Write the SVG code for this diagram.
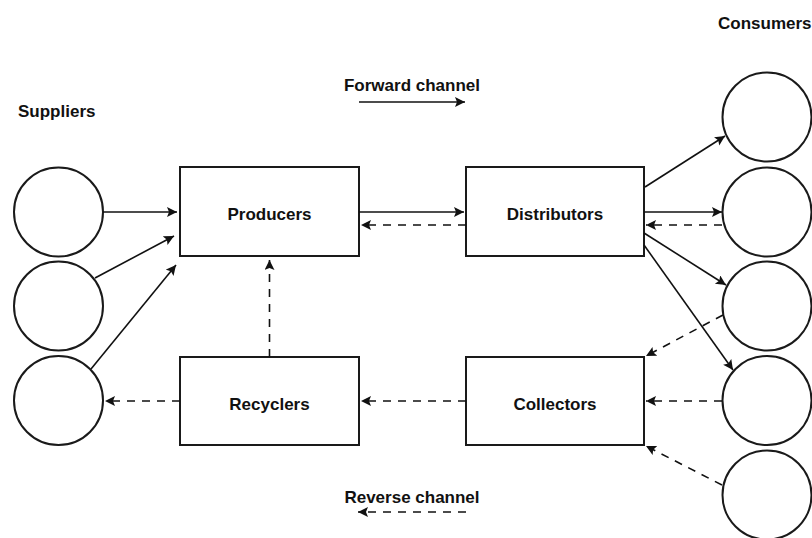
<svg xmlns="http://www.w3.org/2000/svg" width="812" height="538" viewBox="0 0 812 538">
<style>
.node{fill:#fff;stroke:#1a1a1a;stroke-width:2}
.lbl{font-family:"Liberation Sans",Arial,sans-serif;font-weight:bold;font-size:17px;fill:#111}
.mid{text-anchor:middle}
.c{fill:none;stroke:#111;stroke-width:1.6}
.d{stroke-dasharray:8 7}
</style>
<defs>
<marker id="ah" markerUnits="userSpaceOnUse" markerWidth="11" markerHeight="11" refX="10" refY="5" orient="auto">
<path d="M0,0 L10,5 L0,10 L2,5 z" fill="#111"/>
</marker>
</defs>
<rect width="812" height="538" fill="#fff"/>
<text class="lbl" x="18" y="117">Suppliers</text>
<text class="lbl" x="718" y="29">Consumers</text>
<text class="lbl mid" x="412" y="91">Forward channel</text>
<text class="lbl mid" x="412" y="503">Reverse channel</text>

<g id="supplier1"><circle class="node" cx="58.5" cy="212" r="44.5"/></g>
<g id="supplier2"><circle class="node" cx="58.5" cy="306" r="44.5"/></g>
<g id="supplier3"><circle class="node" cx="58.5" cy="400.5" r="44.5"/></g>

<g id="producers"><rect class="node" x="180" y="167" width="179" height="89"/><text class="lbl mid" x="269.5" y="220">Producers</text></g>
<g id="distributors"><rect class="node" x="466" y="167" width="178" height="89"/><text class="lbl mid" x="555" y="220">Distributors</text></g>
<g id="recyclers"><rect class="node" x="180" y="357" width="179" height="88"/><text class="lbl mid" x="269.5" y="410">Recyclers</text></g>
<g id="collectors"><rect class="node" x="466" y="357" width="178" height="88"/><text class="lbl mid" x="555" y="410">Collectors</text></g>

<g id="consumer1"><circle class="node" cx="767" cy="117" r="44.5"/></g>
<g id="consumer2"><circle class="node" cx="767" cy="212" r="44.5"/></g>
<g id="consumer3"><circle class="node" cx="767" cy="306" r="44.5"/></g>
<g id="consumer4"><circle class="node" cx="767" cy="400.5" r="44.5"/></g>
<g id="consumer5"><circle class="node" cx="767" cy="495" r="44.5"/></g>

<g id="connectors">
<line class="c" x1="359" y1="102" x2="465" y2="102" marker-end="url(#ah)"/>
<line class="c d" x1="466" y1="512" x2="358" y2="512" marker-end="url(#ah)"/>
<line class="c" x1="103" y1="212" x2="177" y2="212" marker-end="url(#ah)"/>
<line class="c" x1="95" y1="278" x2="174" y2="236" marker-end="url(#ah)"/>
<line class="c" x1="91" y1="369" x2="176" y2="265" marker-end="url(#ah)"/>
<line class="c" x1="359" y1="212" x2="464" y2="212" marker-end="url(#ah)"/>
<line class="c" x1="645" y1="187" x2="725" y2="136" marker-end="url(#ah)"/>
<line class="c" x1="644" y1="212" x2="722" y2="212" marker-end="url(#ah)"/>
<line class="c" x1="644" y1="233" x2="726" y2="285" marker-end="url(#ah)"/>
<line class="c" x1="644" y1="245" x2="733" y2="370" marker-end="url(#ah)"/>
<line class="c d" x1="466" y1="225" x2="361" y2="225" marker-end="url(#ah)"/>
<line class="c d" x1="722" y1="225" x2="646" y2="225" marker-end="url(#ah)"/>
<line class="c d" x1="723" y1="315" x2="646" y2="356" marker-end="url(#ah)"/>
<line class="c d" x1="722" y1="401" x2="646" y2="401" marker-end="url(#ah)"/>
<line class="c d" x1="722" y1="485" x2="646" y2="446" marker-end="url(#ah)"/>
<line class="c d" x1="466" y1="401" x2="361" y2="401" marker-end="url(#ah)"/>
<line class="c d" x1="180" y1="401" x2="105" y2="401" marker-end="url(#ah)"/>
<line class="c d" x1="269.5" y1="357" x2="269.5" y2="260" marker-end="url(#ah)"/>
</g>
</svg>
